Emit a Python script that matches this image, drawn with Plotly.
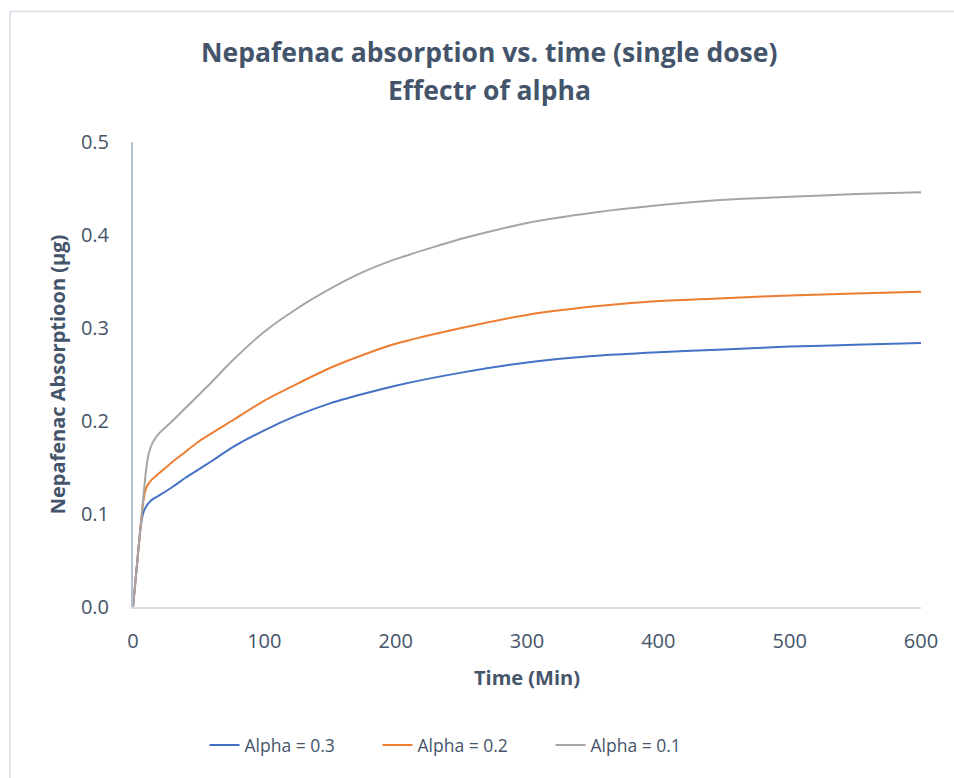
import plotly.graph_objects as go

time_min = [0, 2, 4, 6, 8, 10, 12, 15, 20, 30, 40, 50, 60, 75, 100, 125, 150, 175, 200, 250, 300, 350, 400, 450, 500, 550, 600]
alpha_03 = [0, 0.03, 0.06, 0.088, 0.102, 0.108, 0.112, 0.116, 0.120, 0.129, 0.139, 0.148, 0.157, 0.171, 0.190, 0.206, 0.219, 0.229, 0.238, 0.252, 0.263, 0.270, 0.274, 0.277, 0.280, 0.282, 0.284]
alpha_02 = [0, 0.03, 0.06, 0.09, 0.115, 0.128, 0.133, 0.138, 0.144, 0.156, 0.167, 0.178, 0.187, 0.200, 0.222, 0.240, 0.257, 0.271, 0.283, 0.300, 0.314, 0.323, 0.329, 0.332, 0.335, 0.337, 0.339]
alpha_01 = [0, 0.03, 0.06, 0.09, 0.12, 0.148, 0.165, 0.177, 0.187, 0.200, 0.214, 0.228, 0.242, 0.264, 0.296, 0.321, 0.342, 0.360, 0.374, 0.396, 0.413, 0.424, 0.432, 0.438, 0.441, 0.444, 0.446]

series_names = ["Alpha = 0.3", "Alpha = 0.2", "Alpha = 0.1"]
series_values = [alpha_03, alpha_02, alpha_01]
series_colors = ["#4472C4", "#ED7D31", "#A5A5A5"]

x_ticks = [0, 100, 200, 300, 400, 500, 600]
y_ticks = [0.0, 0.1, 0.2, 0.3, 0.4, 0.5]
y_tick_labels = ["0.0", "0.1", "0.2", "0.3", "0.4", "0.5"]

title_lines = ["Nepafenac absorption vs. time (single dose)", "Effectr of alpha"]

TEXT = "#44546A"
FONT = "Open Sans"

fig = go.Figure()
for name, vals, col in zip(series_names, series_values, series_colors):
    fig.add_trace(go.Scatter(
        x=time_min, y=vals, name=name, mode="lines",
        line=dict(color=col, width=2, shape="spline", smoothing=0.6),
    ))

# plot area pixel geometry: x 133..921, y 142..607
L, R, T, B = 133, 921, 142, 607
W, H = R - L, B - T
def px(x): return (x - L) / W
def py(y): return (B - y) / H

annotations = []
for txt, yc in zip(title_lines, [52, 90]):
    annotations.append(dict(
        text=f"<b>{txt}</b>", xref="paper", yref="paper", x=px(489), y=py(yc),
        xanchor="center", yanchor="middle", showarrow=False,
        font=dict(family=FONT, size=26.5, color=TEXT),
    ))

fig.update_layout(
    width=954, height=778,
    margin=dict(l=L, r=954 - R, t=T, b=778 - B),
    paper_bgcolor="white", plot_bgcolor="white",
    font=dict(family=FONT, color=TEXT, size=20),
    annotations=annotations,
    xaxis=dict(
        range=[0, 600], tickvals=x_ticks, showgrid=False, zeroline=False,
        showline=True, linecolor="#D9DCE3", linewidth=2,
        ticks="", tickfont=dict(size=20, color=TEXT), ticklabelstandoff=15,
        title=dict(text="<b>Time (Min)</b>", font=dict(size=20, color=TEXT), standoff=18),
    ),
    yaxis=dict(
        range=[0, 0.5], tickvals=y_ticks, ticktext=y_tick_labels, showgrid=False, zeroline=False,
        showline=True, linecolor="#B4C0D6", linewidth=2,
        ticks="", tickfont=dict(size=20, color=TEXT), ticklabelstandoff=18,
        title=dict(text="<b>Nepafenac Absorptioon (µg)</b>", font=dict(size=20, color=TEXT), standoff=10),
    ),
    legend=dict(
        orientation="h", x=px(464), xanchor="center",
        y=py(745), yanchor="middle",
        font=dict(size=17.5, color=TEXT), itemwidth=30,
        entrywidth=128, entrywidthmode="pixels", traceorder="normal",
    ),
    shapes=[
        dict(type="line", xref="paper", yref="paper", x0=px(9), x1=px(960), y0=py(11.5), y1=py(11.5),
             line=dict(color="#E0E3EA", width=2)),
        dict(type="line", xref="paper", yref="paper", x0=px(10), x1=px(10), y0=py(11), y1=py(790),
             line=dict(color="#E0E3EA", width=2)),
    ],
)

fig.write_html("out.html")
